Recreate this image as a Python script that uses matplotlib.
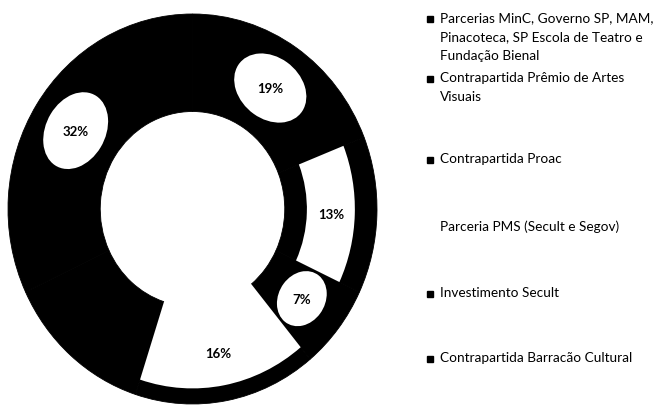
import matplotlib
matplotlib.use('Agg')
import matplotlib.pyplot as plt
from matplotlib.patches import Ellipse
import numpy as np

plt.rcParams['font.family'] = ['Lato', 'DejaVu Sans']

# dados
categorias = ['Parcerias MinC, Governo SP, MAM,\nPinacoteca, SP Escola de Teatro e\nFundação Bienal',
              'Contrapartida Prêmio de Artes\nVisuais',
              'Contrapartida Proac',
              'Parceria PMS (Secult e Segov)',
              'Investimento Secult',
              'Contrapartida Barracão Cultural']
valores = [19, 13, 7, 16, 13, 32]
rotulos = ['19%', '13%', '7%', '16%', '', '32%']

# estilo (imagem escaneada em preto e branco)
claro = ['none', 'white', 'none', 'white', 'none', 'none']
mancha = [(0.42, 0.32), None, (0.3, 0.25), None, None, (0.42, 0.32)]
marcador = [True, True, True, False, True, True]

W, H = 657, 410
fig = plt.figure(figsize=(W / 100, H / 100), dpi=100)

# eixo da rosca: centro ~ (192, 210), raios 184 x 195 px
ax = fig.add_axes([8 / W, 5 / H, 369 / W, 390 / H])
ax.pie(valores, colors=['black'] * len(valores), startangle=90, counterclock=False,
       radius=1.0, wedgeprops=dict(width=0.5, linewidth=0.6, edgecolor='black'))
# faixa interna clara das fatias cinza (binarizadas no escaneamento)
internas, _ = ax.pie(valores, colors=claro, startangle=90, counterclock=False,
                     radius=0.9, wedgeprops=dict(width=0.3, linewidth=0))
internas[1].set_radius(0.88)
internas[1].set_width(0.26)
internas[3].set_radius(0.92)
internas[3].set_width(0.44)
ax.set_aspect('auto')
ax.set_xlim(-1, 1)
ax.set_ylim(-1, 1)
ax.axis('off')

# rótulos de porcentagem
total = sum(valores)
ang = 90.0
for v, txt, m in zip(valores, rotulos, mancha):
    meio = ang - v / total * 360 / 2
    ang -= v / total * 360
    if not txt:
        continue
    r = 0.75
    x = r * np.cos(np.radians(meio))
    y = r * np.sin(np.radians(meio))
    if m:
        ax.add_patch(Ellipse((x, y), m[0], m[1], angle=meio - 90,
                             facecolor='white', edgecolor='none', zorder=3))
    ax.text(x, y, txt, ha='center', va='center', fontsize=9.5,
            fontweight='bold', color='black', zorder=4)

# legenda manual
linha_px = [20, 80, 161, 228, 295, 360]
for nome, yc, mk in zip(categorias, linha_px, marcador):
    if mk:
        fig.add_artist(plt.Line2D([430 / W], [1 - yc / H], marker='s', markersize=5,
                                  color='black', transform=fig.transFigure))
    fig.text(440 / W, 1 - (yc - 8) / H, nome, ha='left', va='top',
             fontsize=9.8, linespacing=1.68, color='black')

plt.savefig('out.png', dpi=100)
plt.close()
